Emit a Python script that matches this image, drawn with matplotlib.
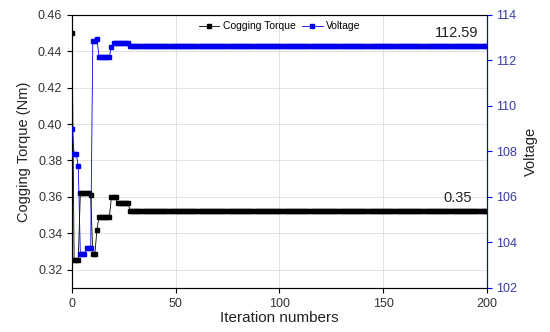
import numpy as np
import matplotlib
matplotlib.use("Agg")
import matplotlib.pyplot as plt

plt.rcParams['font.family'] = ['Liberation Sans', 'DejaVu Sans']

n_iter = 201
iterations = np.arange(n_iter)

# Step runs: run starting iteration and value
torque_starts = [0, 1, 4, 9, 10, 12, 13, 19, 22, 28]
torque_vals = [0.450, 0.3255, 0.362, 0.361, 0.3285, 0.342, 0.349, 0.360, 0.3565, 0.3525]

volt_starts = [0, 1, 3, 4, 7, 10, 12, 13, 19, 20, 28]
volt_vals = [109.0, 107.9, 107.36, 103.5, 103.74, 112.87, 112.95, 112.17, 112.6, 112.75, 112.65]

xticks = [0, 50, 100, 150, 200]
left_ticks = [0.32, 0.34, 0.36, 0.38, 0.40, 0.42, 0.44, 0.46]
right_ticks = [102, 104, 106, 108, 110, 112, 114]


def expand(starts, vals, n):
    out = np.empty(n)
    ends = list(starts[1:]) + [n]
    for s, e, v in zip(starts, ends, vals):
        out[s:e] = v
    return out


torque = expand(torque_starts, torque_vals, n_iter)
voltage = expand(volt_starts, volt_vals, n_iter)

fig = plt.figure(figsize=(5.5, 3.32), dpi=100)
ax = fig.add_axes([0.131, 0.133, 0.754, 0.822])
ax2 = ax.twinx()

blue = '#0000ee'
tick_blue = '#3a3aa8'

l1, = ax.plot(iterations, torque, color='black', lw=0.6, marker='s', ms=3.5,
              label='Cogging Torque', zorder=3)
l2, = ax2.plot(iterations, voltage, color=blue, lw=0.6, marker='s', ms=3.5,
               label='Voltage', zorder=3)

ax.set_xlim(0, 200)
ax.set_ylim(0.31, 0.46)
ax2.set_ylim(102, 114)
ax.set_xticks(xticks)
ax.set_yticks(left_ticks)
ax.set_yticklabels([f'{v:.2f}' for v in left_ticks])
ax2.set_yticks(right_ticks)

ax.grid(True, color='#dddddd', lw=0.6)
ax.set_axisbelow(True)

ax.tick_params(axis='both', labelsize=9, direction='out', length=3.5, colors='black', labelcolor='#333333')
ax2.tick_params(axis='y', labelsize=9, direction='out', length=3.5, colors=blue, labelcolor=tick_blue)
ax2.spines['right'].set_color(blue)
for s in ['left', 'bottom', 'top']:
    ax.spines[s].set_color('#333333')

ax.set_xlabel('Iteration numbers', fontsize=11, color='#222222', labelpad=1)
ax.set_ylabel('Cogging Torque (Nm)', fontsize=10.5, color='#222222', labelpad=5)
ax2.set_ylabel('Voltage', fontsize=10.5, color='#222222', labelpad=5)

ax.text(193, torque[-1] + 0.003, '0.35', ha='right', va='bottom', fontsize=10.5, color='#222222')
ax2.text(196, voltage[-1] + 0.25, '112.59', ha='right', va='bottom', fontsize=10.5, color='#222222')

leg = ax.legend(handles=[l1, l2], loc='upper center', bbox_to_anchor=(0.5, 1.0), ncol=2,
                frameon=False, fontsize=7.5, handlelength=2, columnspacing=0.6,
                handletextpad=0.3, borderaxespad=0.2)

fig.savefig('out.png', dpi=100)
